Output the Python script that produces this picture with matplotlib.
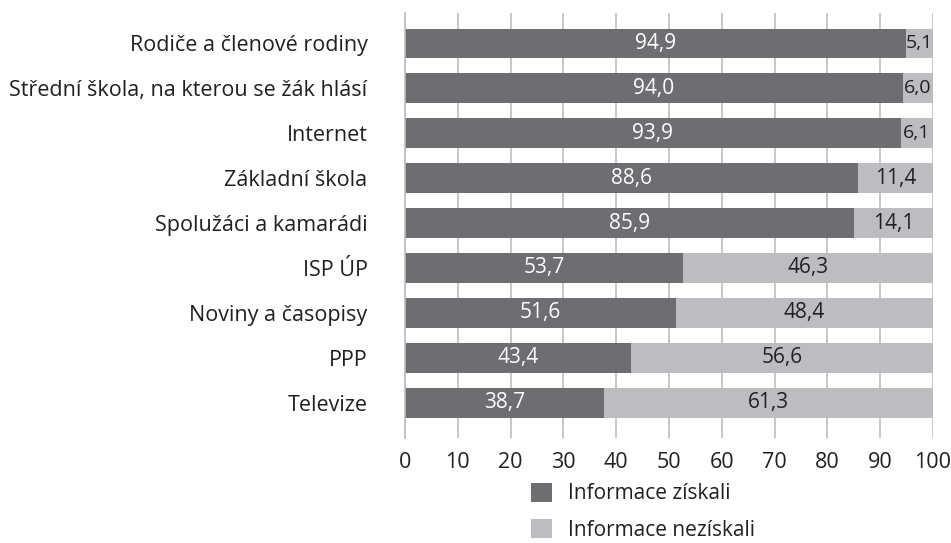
import matplotlib.pyplot as plt
import numpy as np

plt.rcParams['font.family'] = ['Open Sans', 'DejaVu Sans']

# Data
categories = [
    'Rodiče a členové rodiny',
    'Střední škola, na kterou se žák hlásí',
    'Internet',
    'Základní škola',
    'Spolužáci a kamarádi',
    'ISP ÚP',
    'Noviny a časopisy',
    'PPP',
    'Televize',
]
# printed values
ziskali = [94.9, 94.0, 93.9, 88.6, 85.9, 53.7, 51.6, 43.4, 38.7]
neziskali = [5.1, 6.0, 6.1, 11.4, 14.1, 46.3, 48.4, 56.6, 61.3]
# bar lengths as drawn in the original (slightly off from the printed values)
ziskali_bar = [94.9, 94.3, 93.9, 85.8, 85.0, 52.6, 51.3, 42.8, 37.7]
neziskali_bar = [5.1, 5.7, 6.1, 14.2, 15.0, 47.4, 48.7, 57.2, 62.3]
series_names = ['Informace získali', 'Informace nezískali']

dark = '#6d6e71'
light = '#bcbdc0'
txt = '#231f20'

fig = plt.figure(figsize=(9.51, 5.43), dpi=100)
ax = fig.add_axes([405 / 951, 1 - 438 / 543, 528 / 951, 425 / 543])

y = np.arange(len(categories))
b1 = ax.barh(y, ziskali_bar, height=0.65, color=dark, label=series_names[0], zorder=2)
b2 = ax.barh(y, neziskali_bar, left=ziskali_bar, height=0.65, color=light,
             label=series_names[1], zorder=2)

fmt = lambda v: f'{v:.1f}'.replace('.', ',')
for yi, a, b, da, db in zip(y, ziskali, neziskali, ziskali_bar, neziskali_bar):
    ax.text(da / 2, yi, fmt(a), ha='center', va='center', color='white',
            fontsize=15, zorder=3)
    ax.text(da + db / 2, yi, fmt(b), ha='center', va='center', color=txt,
            fontsize=15 if db > 8 else 14, zorder=3)

ax.set_xlim(0, 100)
ax.set_ylim(8.78, -0.67)
ax.set_yticks(y)
ax.set_yticklabels(categories, fontsize=15.5, color=txt)
ax.set_xticks(np.arange(0, 101, 10))
ax.tick_params(axis='x', length=0, pad=10, labelsize=15.5, labelcolor=txt)
ax.tick_params(axis='y', length=0, pad=27)
ax.grid(axis='x', color='#bdbdbd', linewidth=1.2, zorder=0)
for s in ['top', 'right', 'bottom']:
    ax.spines[s].set_visible(False)
ax.spines['left'].set_color('#bdbdbd')
ax.spines['left'].set_linewidth(1.2)

fig.legend(handles=[b1, b2], loc='upper left', bbox_to_anchor=(531 / 951, 1 - 483 / 543),
           ncol=1, frameon=False, fontsize=15, handlelength=1.0, handleheight=1.0,
           handletextpad=0.8, labelspacing=0.72, borderpad=0, borderaxespad=0,
           labelcolor=txt)

fig.savefig('out.png', dpi=100)
